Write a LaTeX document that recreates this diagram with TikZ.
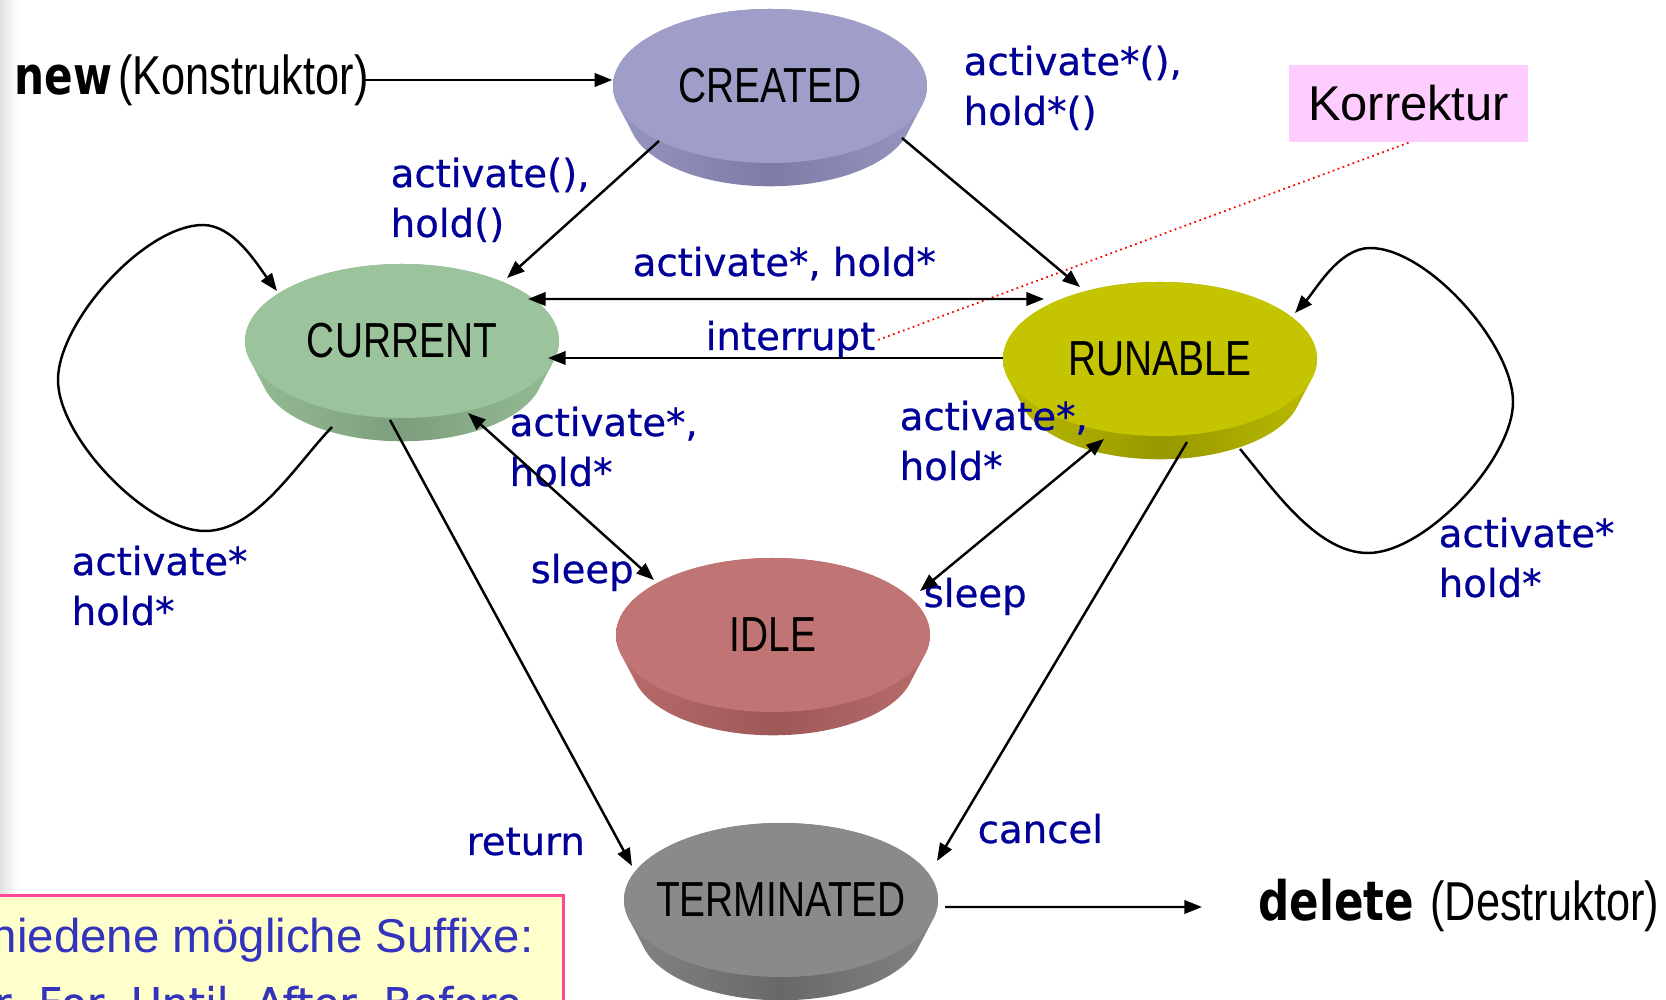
\documentclass[tikz,border=0pt]{standalone}
\usepackage{fontspec}
\setmainfont{Liberation Sans}
\newfontfamily\narrowf{Liberation Sans}[FakeStretch=0.79]
\newfontfamily\comicf{DejaVu Sans}[FakeBold=0.6]
\newfontfamily\comicbf{DejaVu Sans}[FakeStretch=0.8]
\usetikzlibrary{arrows.meta,calc,shapes.geometric}
\definecolor{lblblue}{RGB}{0,0,153}
\definecolor{korrpink}{RGB}{255,204,255}
\definecolor{boxy}{RGB}{255,255,204}
\definecolor{boxp}{RGB}{255,68,153}
\definecolor{boxtxt}{RGB}{51,51,187}
\definecolor{crTop}{RGB}{158,158,200}\definecolor{crL}{RGB}{150,150,192}\definecolor{crD}{RGB}{124,124,166}
\definecolor{cuTop}{RGB}{156,196,156}\definecolor{cuL}{RGB}{148,188,148}\definecolor{cuD}{RGB}{126,158,126}
\definecolor{ruTop}{RGB}{196,196,0}\definecolor{ruL}{RGB}{186,186,0}\definecolor{ruD}{RGB}{152,152,0}
\definecolor{idTop}{RGB}{192,116,116}\definecolor{idL}{RGB}{184,108,108}\definecolor{idD}{RGB}{158,88,88}
\definecolor{teTop}{RGB}{138,138,138}\definecolor{teL}{RGB}{132,132,132}\definecolor{teD}{RGB}{104,104,104}
\newcommand\diskdraw[4]{%
  \shade[left color=#3,right color=#3,middle color=#4]
    \foreach \k in {0,...,10}{ (#1) ++(0,-0.031*\k) ellipse ({1.57-0.0157*\k} and {0.77-0.0077*\k}) };
  \fill[#2] (#1) ellipse (1.57 and 0.77);
}
\tikzset{
  lbl/.style={text=lblblue, font=\comicf\fontsize{11}{14.2}\selectfont, inner sep=0pt, align=left, anchor=base west},
  state/.style={ellipse, minimum width=3.14cm, minimum height=1.54cm, inner sep=0pt, font=\narrowf\fontsize{14}{16}\selectfont},
  arr/.style={-{Triangle[length=5pt,width=3.8pt]}, line width=0.7pt},
  darr/.style={{Triangle[length=5pt,width=3.8pt]}-{Triangle[length=5pt,width=3.8pt]}, line width=0.7pt}
}
\begin{document}
\begin{tikzpicture}
\useasboundingbox (0,0) rectangle (16.66,-10);
\clip (0,0) rectangle (16.66,-10);
\fill[white] (0,0) rectangle (16.66,-10);
\shade[left color=black!12, right color=white] (0,0) rectangle (0.18,-10);

% disks
\diskdraw{7.70,-0.86}{crTop}{crL}{crD}
\diskdraw{4.02,-3.41}{cuTop}{cuL}{cuD}
\diskdraw{11.60,-3.59}{ruTop}{ruL}{ruD}
\diskdraw{7.73,-6.35}{idTop}{idL}{idD}
\diskdraw{7.81,-9.00}{teTop}{teL}{teD}

% state nodes
\node[state] (created) at (7.70,-0.86) {CREATED};
\node[state] (current) at (4.02,-3.41) {CURRENT};
\node[state] (runable) at (11.60,-3.59) {RUNABLE};
\node[state] (idle) at (7.73,-6.35) {IDLE};
\node[state] (terminated) at (7.81,-9.00) {TERMINATED};

% new / delete
\node[anchor=base west, inner sep=0pt] (newlbl) at (0.14,-0.95)
  {{\comicbf\bfseries\fontsize{15}{18}\selectfont new}\kern0.06cm{\narrowf\fontsize{15.6}{18}\selectfont (Konstruktor)}};
\node[anchor=base west, inner sep=0pt] (dellbl) at (12.58,-9.20)
  {{\comicbf\bfseries\fontsize{15.5}{18}\selectfont delete}\kern0.16cm{\narrowf\fontsize{15.6}{18}\selectfont (Destruktor)}};
\coordinate (newarr) at ($(newlbl.base east)+(-0.07,0.15)$);
\coordinate (delarr) at ($(dellbl.base west)+(-0.56,0.13)$);

% labels (base = baseline of last line)
\node[lbl] (l1) at (3.90,-2.37) {activate(),\\hold()};
\node[lbl] (l2) at (9.63,-1.25) {activate*(),\\hold*()};
\node[lbl] (l3) at (6.32,-2.76) {activate*, hold*};
\node[lbl] (intr) at (7.05,-3.50) {interrupt};
\node[lbl] (l5) at (5.09,-4.86) {activate*,\\hold*};
\node[lbl] (sl1) at (5.30,-5.83) {sleep};
\node[lbl] (l6) at (8.99,-4.80) {activate*,\\hold*};
\node[lbl] (sl2) at (9.23,-6.07) {sleep};
\node[lbl] (ret) at (4.66,-8.55) {return};
\node[lbl] (can) at (9.77,-8.43) {cancel};
\node[lbl] (lp1) at (0.71,-6.25) {activate*\\hold*};
\node[lbl] (lp2) at (14.38,-5.97) {activate*\\hold*};

% Korrektur
\node[fill=korrpink, minimum width=2.39cm, minimum height=0.77cm, inner sep=0pt,
      font=\fontsize{13.9}{16}\selectfont] (korr) at (14.085,-1.035) {Korrektur};
\draw[red, densely dotted, line width=0.5pt] (korr.south) -- (intr.mid east);

% connectors
\draw[arr] (newarr) -- (newarr -| created.west);
\draw[arr] ($(created.center)+(-1.11,-0.55)$) -- ($(current.center)+(1.05,0.63)$);
\draw[arr] ($(created.center)+(1.32,-0.52)$) -- ($(runable.center)+(-0.80,0.72)$);
\draw[darr] ($(current.center)+(1.26,0.42)$) -- ($(runable.center)+(-1.16,0.60)$);
\draw[arr] ($(runable.center)+(-1.57,0.01)$) -- ($(current.center)+(1.46,-0.17)$);
\draw[darr] ($(current.center)+(0.66,-0.72)$) -- ($(idle.center)+(-1.19,0.55)$);
\draw[darr] ($(runable.center)+(-0.56,-0.80)$) -- ($(idle.center)+(1.47,0.44)$);
\draw[arr] ($(current.center)+(-0.12,-0.79)$) -- ($(terminated.center)+(-1.49,0.34)$);
\draw[arr] ($(runable.center)+(0.27,-0.83)$) -- ($(terminated.center)+(1.56,0.39)$);
\draw[arr] ($(terminated.center)+(1.64,-0.07)$) -- (delarr);

% self loops
\draw[arr] ($(current.center)+(-0.70,-0.86)$) to[out=226,in=0,looseness=0.8]
  ($(current.center)+(-1.97,-1.90)$) to[out=180,in=-90,looseness=0.7]
  ($(current.center)+(-3.44,-0.39)$) to[out=90,in=180,looseness=0.7]
  ($(current.center)+(-1.99,1.16)$) to[out=0,in=127,looseness=0.8]
  ($(current.center)+(-1.25,0.50)$);
\draw[arr] ($(runable.center)+(0.80,-0.90)$) to[out=-50,in=180,looseness=0.8]
  ($(runable.center)+(2.08,-1.94)$) to[out=0,in=-90,looseness=0.7]
  ($(runable.center)+(3.53,-0.43)$) to[out=90,in=0,looseness=0.7]
  ($(runable.center)+(2.10,1.11)$) to[out=180,in=48,looseness=0.8]
  ($(runable.center)+(1.35,0.46)$);

% suffix box
\node[draw=boxp, fill=boxy, line width=0.8pt, minimum width=6cm, minimum height=1.5cm,
      anchor=north east, inner sep=0pt] (suff) at (5.645,-8.94) {};
\node[anchor=base east, inner sep=0pt, text=boxtxt, font=\fontsize{13.5}{16}\selectfont]
  (s1) at (5.34,-9.52) {hiedene mögliche Suffixe:};
\node[anchor=base east, inner sep=0pt, text=boxtxt, font=\comicf\fontsize{12}{14}\selectfont]
  (s2) at (5.22,-10.18) {r, For, Until, After, Before};
\end{tikzpicture}
\end{document}
